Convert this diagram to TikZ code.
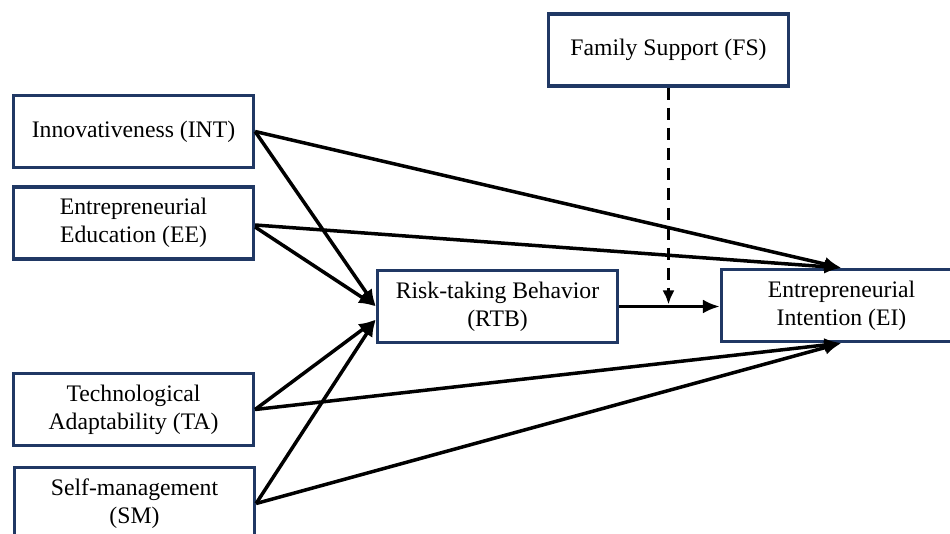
\documentclass[tikz,border=0pt]{standalone}
\usepackage{fontspec}
\setmainfont{Liberation Serif}
\usetikzlibrary{arrows.meta,calc}
\definecolor{boxcol}{HTML}{203864}
\tikzset{
  varbox/.style={draw=boxcol, line width=3.2pt, fill=white, minimum width=240pt, minimum height=72pt,
    inner sep=0pt, align=center, font=\fontsize{23.7}{28}\selectfont},
  path/.style={draw=black, line width=3.5pt, -{Latex[length=17pt,width=14pt]}},
  modpath/.style={draw=black, line width=3.5pt, dash pattern=on 12pt off 8pt, -{Latex[length=14pt,width=12pt]}}
}
\begin{document}
\begin{tikzpicture}[x=1pt,y=-1pt]
\useasboundingbox (0,0) rectangle (950,534);
\clip (0,0) rectangle (950,534);
\node[varbox] (INT) at (133.5,131.5) {Innovativeness (INT)};
\node[varbox] (EE) at (133.5,223) {Entrepreneurial\\Education (EE)};
\node[varbox] (TA) at (133.5,409.5) {Technological\\Adaptability (TA)};
\node[varbox] (SM) at (134.5,503.5) {Self-management\\(SM)};
\node[varbox] (RTB) at (497.5,306.5) {Risk-taking Behavior\\(RTB)};
\node[varbox] (FS) at (668.5,50) {Family Support (FS)};
\node[varbox] (EI) at (841.5,305.5) {Entrepreneurial\\Intention (EI)};
% paths to EI
\draw[path] (INT.east) -- (EI.north);
\draw[path] ([yshift=-2pt]EE.east) -- (EI.north);
\draw[path] (TA.east) -- (EI.south);
\draw[path] (SM.east) -- (EI.south);
% paths to RTB
\draw[path] (INT.east) -- (RTB.west);
\draw[path] ([yshift=-4pt]EE.east) -- (RTB.west);
\draw[path] (TA.east) -- ([yshift=-13pt]RTB.west);
\draw[path] (SM.east) -- ([yshift=-13pt]RTB.west);
% mediation
\draw[path] (RTB.east) -- (RTB.east -| EI.west);
\draw[modpath, shorten >=2pt] (FS.south) -- (FS.south |- RTB.east);
\end{tikzpicture}
\end{document}
